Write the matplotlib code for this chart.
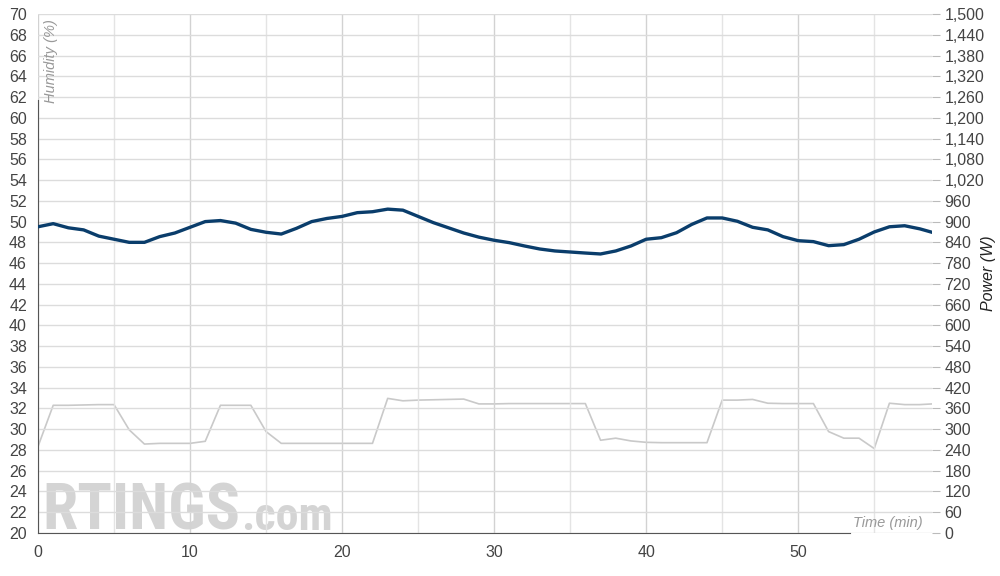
import numpy as np
import matplotlib.pyplot as plt
from matplotlib import font_manager
from matplotlib.ticker import MultipleLocator, FuncFormatter

# time in minutes
time_min = list(range(0, 59)) + [58.8]

humidity = [49.5, 49.8, 49.4, 49.2, 48.6, 48.3, 48.0, 48.0, 48.55, 48.9,
            49.45, 50.0, 50.1, 49.85, 49.25, 48.97, 48.8, 49.35, 50.0, 50.3,
            50.5, 50.86, 50.95, 51.2, 51.1, 50.5, 49.9, 49.4, 48.9, 48.5,
            48.2, 47.97, 47.65, 47.36, 47.17, 47.07, 46.97, 46.88, 47.17, 47.65,
            48.3, 48.45, 48.93, 49.73, 50.35, 50.35, 50.03, 49.45, 49.2, 48.55,
            48.16, 48.07, 47.68, 47.78, 48.3, 49.0, 49.5, 49.6, 49.3, 48.97]

power = [250, 369, 369, 370, 371, 371, 298, 257, 259, 259,
         259, 265, 369, 369, 369, 293, 259, 259, 259, 259,
         259, 259, 259, 389, 382, 384, 385, 386, 387, 373,
         373, 374, 374, 374, 374, 374, 374, 268, 274, 266,
         262, 261, 261, 261, 261, 384, 384, 386, 375, 374,
         374, 374, 293, 274, 274, 244, 375, 371, 371, 373]

hum_color = '#0a3d6b'
pow_color = '#c9c9c9'
grid_color = '#dcdcdc'
text_color = '#444444'

plt.rcParams['font.family'] = ['Liberation Sans', 'DejaVu Sans']

# pick a narrow face for the watermark if one is installed
names = {f.name for f in font_manager.fontManager.ttflist}
narrow = None
for cand in ['Liberation Sans Narrow', 'DejaVu Sans Condensed', 'Roboto Condensed',
             'Open Sans Condensed', 'Noto Sans Condensed']:
    if cand in names:
        narrow = cand
        break

fig = plt.figure(figsize=(10, 5.76), dpi=100)
ax = fig.add_axes([0.038, 0.0747, 0.894, 0.901])
ax2 = ax.twinx()

ax.set_xlim(0, 58.8)
ax.set_ylim(20, 70)
ax2.set_ylim(0, 1500)

ax.yaxis.set_major_locator(MultipleLocator(2))
ax2.yaxis.set_major_locator(MultipleLocator(60))
ax.xaxis.set_major_locator(MultipleLocator(10))
ax.xaxis.set_minor_locator(MultipleLocator(5))
ax2.yaxis.set_major_formatter(FuncFormatter(lambda v, p: f'{int(v):,}'))

ax.grid(True, axis='y', color=grid_color, lw=1)
ax.grid(True, axis='x', which='major', color='#d2d2d2', lw=1)
ax.grid(True, axis='x', which='minor', color='#e4e4e4', lw=1)
ax.set_axisbelow(True)

for s in ['top', 'right']:
    ax.spines[s].set_visible(False)
for s in ['top', 'right', 'left', 'bottom']:
    ax2.spines[s].set_visible(False)
ax.spines['left'].set_color('#555555')
ax.spines['bottom'].set_color('#555555')
ax.spines['left'].set_bounds(20, 61.7)
ax.spines['bottom'].set_bounds(0, 53.4)

ax.tick_params(axis='y', length=0, labelsize=11.5, labelcolor=text_color, pad=8)
ax.tick_params(axis='x', which='both', length=0, labelsize=11.5, labelcolor=text_color, pad=9)
ax2.tick_params(axis='y', length=6, color='#bbbbbb', labelsize=11.5, labelcolor=text_color, pad=3)

# watermark
wm_size = 46 if narrow else 40
wm = ax.text(0.3, 20.3, 'RTINGS', fontsize=wm_size, fontweight='bold', color='#d4d4d4',
             family=narrow if narrow else None, ha='left', va='baseline', zorder=0)
fig.canvas.draw()
bb = wm.get_window_extent().transformed(ax.transData.inverted())
ax.text(bb.x1 + 0.05, 20.3, '.com', fontsize=wm_size * 0.72, fontweight='bold',
        color='#d4d4d4', family=narrow if narrow else None, ha='left', va='baseline', zorder=0)

ax2.plot(time_min, power, color=pow_color, lw=1.2, zorder=2)
ax.plot(time_min, humidity, color=hum_color, lw=2.4, zorder=3)
ax.set_zorder(ax2.get_zorder() + 1)
ax.patch.set_visible(False)

ax.text(0.4, 69.5, 'Humidity (%)', rotation=90, style='italic', fontsize=10.5,
        color='#999999', ha='left', va='top')
ax.text(58.2, 20.3, 'Time (min)', style='italic', fontsize=10.5, color='#999999',
        ha='right', va='bottom')
fig.text(0.988, 0.525, 'Power (W)', rotation=90, style='italic', fontsize=11.5,
         color='#222222', ha='center', va='center')

fig.savefig('out.png', dpi=100)
